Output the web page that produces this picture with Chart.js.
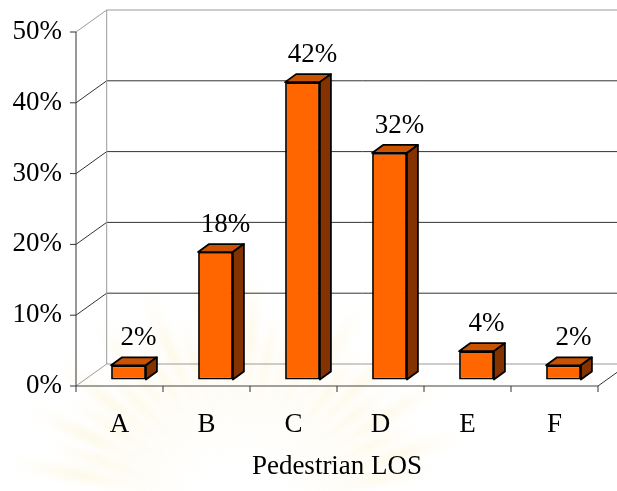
<!DOCTYPE html>
<html>
<head>
<meta charset="utf-8">
<script src="https://cdn.jsdelivr.net/npm/chart.js@4/dist/chart.umd.min.js"></script>
<style>
  html, body { margin: 0; padding: 0; background: #ffffff; }
  #wrap { width: 617px; height: 491px; }
</style>
</head>
<body>
<div id="wrap"><canvas id="chart" width="617" height="491"></canvas></div>
<script>
// Share of observations by pedestrian level of service
const categories = ['A', 'B', 'C', 'D', 'E', 'F'];
const shares = [2, 18, 42, 32, 4, 2];
const yTicks = [0, 10, 20, 30, 40, 50];
const axisTitle = 'Pedestrian LOS';

const SERIF = "'Liberation Serif', 'Times New Roman', serif";
const FONT_SIZE = 27;

// oblique depth of the floor/walls and of the bars
const WALL_DX = 30.7, WALL_DY = 22;
const BAR_DX = 9, BAR_DY = 6.5;
const FACE_DX = 11, FACE_DY = 8;

const GRID_DARK = '#333333';
const EDGE_GRAY = '#9a9a9a';

// faint sunburst emblem in the page background
const watermark = {
  id: 'watermark',
  beforeDraw(chart) {
    const ctx = chart.ctx;
    ctx.save();
    ctx.filter = 'blur(4px)';
    const cx = 240, cy = 505;
    const rays = 24;
    for (let i = 0; i < rays; i++) {
      const a = Math.PI * 1.04 + (i + 0.5) * (Math.PI * 0.92 / rays);
      const spread = 0.035;
      const len = (i % 2 === 0) ? 235 : 200;
      const g = ctx.createRadialGradient(cx, cy, 40, cx, cy, len);
      g.addColorStop(0, 'rgba(250, 238, 200, 0.12)');
      g.addColorStop(0.65, 'rgba(248, 228, 160, 0.28)');
      g.addColorStop(1, 'rgba(250, 238, 200, 0.0)');
      ctx.fillStyle = g;
      ctx.beginPath();
      ctx.moveTo(cx + Math.cos(a) * 40, cy + Math.sin(a) * 40);
      ctx.lineTo(cx + Math.cos(a - spread) * len, cy + Math.sin(a - spread) * len);
      ctx.lineTo(cx + Math.cos(a + spread) * len, cy + Math.sin(a + spread) * len);
      ctx.closePath();
      ctx.fill();
    }
    ctx.restore();
  }
};

const frame3d = {
  id: 'frame3d',
  beforeDatasetsDraw(chart) {
    const ctx = chart.ctx;
    const y = chart.scales.y;
    const left = chart.chartArea.left, right = chart.chartArea.right;
    const y0 = y.getPixelForValue(0);
    const yTop = y.getPixelForValue(yTicks[yTicks.length - 1]);
    ctx.save();
    ctx.lineWidth = 1;
    const line = (x1, y1, x2, y2, c) => {
      ctx.strokeStyle = c;
      ctx.beginPath();
      ctx.moveTo(x1, y1);
      ctx.lineTo(x2, y2);
      ctx.stroke();
    };
    // back wall and side wall lines
    yTicks.forEach((v, i) => {
      const py = y.getPixelForValue(v);
      const edge = (i === 0 || i === yTicks.length - 1);
      const c = edge ? EDGE_GRAY : GRID_DARK;
      line(left + WALL_DX, py - WALL_DY, chart.width + 5, py - WALL_DY, c);
      line(left, py, left + WALL_DX, py - WALL_DY, c);
      line(left - 6, py, left, py, GRID_DARK);
    });
    line(left + WALL_DX, yTop - WALL_DY, left + WALL_DX, y0 - WALL_DY, EDGE_GRAY);
    // value axis
    line(left, yTop, left, y0, GRID_DARK);
    // floor front edge, right edge and category ticks
    line(left, y0, right, y0, '#444444');
    line(right, y0, right + WALL_DX, y0 - WALL_DY, GRID_DARK);
    const step = (right - left) / categories.length;
    for (let i = 0; i <= categories.length; i++) {
      const px = left + i * step;
      line(px, y0, px, y0 + 6, GRID_DARK);
    }
    ctx.restore();
    // bars sit a little behind the front edge of the floor
    ctx.save();
    ctx.translate(BAR_DX, -BAR_DY);
  },
  afterDatasetsDraw(chart) {
    const ctx = chart.ctx;
    const meta = chart.getDatasetMeta(0);
    ctx.lineWidth = 1.8;
    ctx.lineJoin = 'round';
    ctx.strokeStyle = '#000000';
    meta.data.forEach((bar, i) => {
      const p = bar.getProps(['x', 'y', 'base', 'width'], true);
      const L = p.x - p.width / 2, R = p.x + p.width / 2, T = p.y, B = p.base;
      // top face
      ctx.fillStyle = '#c95300';
      ctx.beginPath();
      ctx.moveTo(L, T);
      ctx.lineTo(L + FACE_DX, T - FACE_DY);
      ctx.lineTo(R + FACE_DX, T - FACE_DY);
      ctx.lineTo(R, T);
      ctx.closePath();
      ctx.fill();
      ctx.stroke();
      // side face
      ctx.fillStyle = '#843300';
      ctx.beginPath();
      ctx.moveTo(R, T);
      ctx.lineTo(R + FACE_DX, T - FACE_DY);
      ctx.lineTo(R + FACE_DX, B - FACE_DY);
      ctx.lineTo(R, B);
      ctx.closePath();
      ctx.fill();
      ctx.stroke();
      // value label
      ctx.fillStyle = '#000000';
      ctx.font = FONT_SIZE + 'px ' + SERIF;
      ctx.textAlign = 'center';
      ctx.textBaseline = 'alphabetic';
      ctx.fillText(shares[i] + '%', p.x + 10, T - 20);
    });
    ctx.restore();
  }
};

new Chart(document.getElementById('chart'), {
  type: 'bar',
  data: {
    labels: categories,
    datasets: [{
      data: shares,
      backgroundColor: '#ff6600',
      borderColor: '#000000',
      borderWidth: 1.8,
      borderSkipped: false,
      barPercentage: 0.4,
      categoryPercentage: 1.0,
      clip: false
    }]
  },
  options: {
    responsive: false,
    devicePixelRatio: 1,
    animation: false,
    layout: { padding: { top: 32, right: 19, left: 0, bottom: 0 } },
    plugins: {
      legend: { display: false },
      tooltip: { enabled: false }
    },
    scales: {
      y: {
        min: 0,
        max: 50,
        afterFit(scale) { scale.width = 76; },
        grid: { display: false, drawTicks: false },
        border: { display: false },
        ticks: {
          stepSize: 10,
          padding: 14,
          color: '#000000',
          font: { family: SERIF, size: FONT_SIZE },
          callback: (v) => v + '%'
        }
      },
      x: {
        afterFit(scale) { scale.height = 105; },
        grid: { display: false, drawTicks: false },
        border: { display: false },
        ticks: {
          padding: 23,
          color: '#000000',
          font: { family: SERIF, size: FONT_SIZE }
        },
        title: {
          display: true,
          text: axisTitle,
          color: '#000000',
          font: { family: SERIF, size: FONT_SIZE },
          padding: { top: 0, bottom: 8 }
        }
      }
    }
  },
  plugins: [watermark, frame3d]
});
</script>
</body>
</html>
